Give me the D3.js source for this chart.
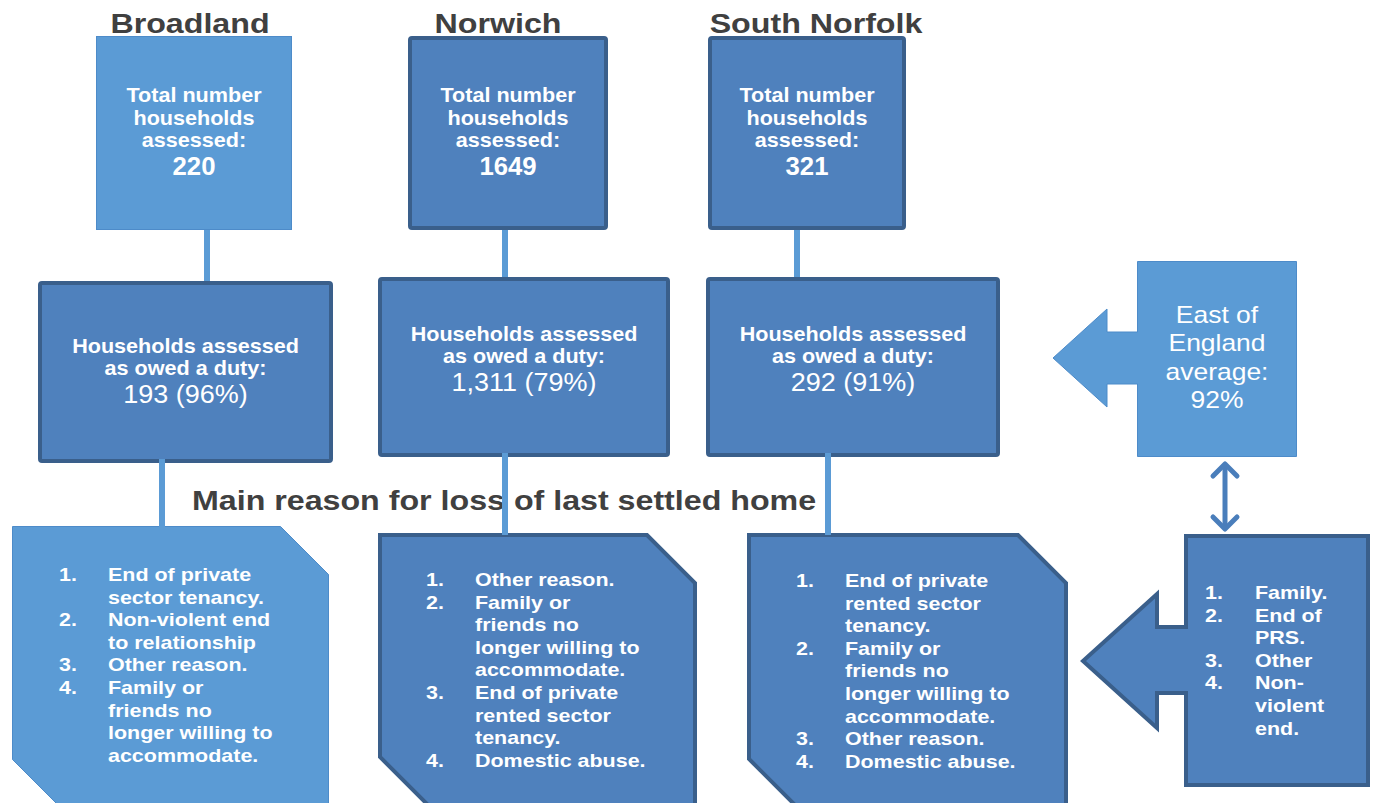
<!DOCTYPE html>
<html lang="en">
<head>
<meta charset="utf-8">
<title>Homelessness assessments - Norfolk</title>
<script src="https://d3js.org/d3.v7.min.js"></script>
<style>
  body { margin: 0; background: #fff; }
  text { font-family: "Liberation Sans", Arial, sans-serif; }
</style>
</head>
<body>
<div id="diagram"></div>
<script>

// data
var districts = ["Broadland", "Norwich", "South Norfolk"];
var totalAssessed = [220, 1649, 321];
var owedDuty = [193, 1311, 292];
var owedPct = [96, 79, 91];
var reasons = [
  [["End of private", "sector tenancy."], ["Non-violent end", "to relationship"], ["Other reason."], ["Family or", "friends no", "longer willing to", "accommodate."]],
  [["Other reason."], ["Family or", "friends no", "longer willing to", "accommodate."], ["End of private", "rented sector", "tenancy."], ["Domestic abuse."]],
  [["End of private", "rented sector", "tenancy."], ["Family or", "friends no", "longer willing to", "accommodate."], ["Other reason."], ["Domestic abuse."]]
];
var regionName = ["East of", "England", "average:"];
var regionPct = 92;
var regionReasons = [["Family."], ["End of", "PRS."], ["Other"], ["Non-", "violent", "end."]];
var topLabel = ["Total number", "households", "assessed:"];
var midLabel = ["Households assessed", "as owed a duty:"];
var sectionTitle = "Main reason for loss of last settled home";

var width = 1378, height = 803;
var light = "#5b9bd5", lightEdge = "#4d8bc9";
var dark = "#4f81bd", darkEdge = "#3a5f8b";
var grey = "#404040";

// layout of each column
var layout = [
  { title: 190, top: [96, 36, 196, 194], topLight: true, link1: 207,
    mid: [38, 281, 295, 182], midLight: false, midText: 353, link2: 162,
    bot: [12, 526, 317, 282], botLight: true, cut: 48, numX: 59, txtX: 108, base: 581 },
  { title: 498, top: [408, 36, 200, 194], topLight: false, link1: 505,
    mid: [378, 277, 292, 180], midLight: false, midText: 341, link2: 505,
    bot: [378, 533, 319, 274], botLight: false, cut: 48, numX: 426, txtX: 475, base: 586 },
  { title: 816, top: [708, 36, 198, 194], topLight: false, link1: 797,
    mid: [706, 277, 294, 180], midLight: false, midText: 341, link2: 828,
    bot: [747, 533, 321, 276], botLight: false, cut: 48, numX: 796, txtX: 845, base: 587 }
];

var svg = d3.select("#diagram").append("svg")
  .attr("width", width)
  .attr("height", height);

var lineH = 22.6;
var fmt = d3.format(",");

function label(x, y, t, o) {
  return svg.append("text")
    .attr("transform", "translate(" + x + "," + y + ") scale(" + (o.sx || 1.08) + ",1)")
    .attr("text-anchor", o.anchor || "middle")
    .style("font-size", o.size + "px")
    .style("font-weight", o.weight || "bold")
    .style("fill", o.fill || "#fff")
    .text(t);
}

function box(r, isLight) {
  var inset = isLight ? 0.5 : 2;
  svg.append("rect")
    .attr("x", r[0] + inset).attr("y", r[1] + inset)
    .attr("width", r[2] - 2 * inset).attr("height", r[3] - 2 * inset)
    .attr("rx", isLight ? 0 : 2)
    .style("fill", isLight ? light : dark)
    .style("stroke", isLight ? lightEdge : darkEdge)
    .style("stroke-width", isLight ? 1 : 4);
}

function snip(r, c, isLight) {
  var i = isLight ? 0.5 : 2;
  var x0 = r[0] + i, y0 = r[1] + i, x1 = r[0] + r[2] - i, y1 = r[1] + r[3] - i;
  var p = d3.path();
  p.moveTo(x0, y0); p.lineTo(x1 - c, y0); p.lineTo(x1, y0 + c);
  p.lineTo(x1, y1); p.lineTo(x0 + c, y1); p.lineTo(x0, y1 - c); p.closePath();
  svg.append("path").attr("d", p.toString())
    .style("fill", isLight ? light : dark)
    .style("stroke", isLight ? lightEdge : darkEdge)
    .style("stroke-width", isLight ? 1 : 4);
}

function link(x, y0, y1) {
  svg.append("line")
    .attr("x1", x).attr("x2", x).attr("y1", y0).attr("y2", y1)
    .style("stroke", light).style("stroke-width", 6);
}

function list(items, numX, txtX, base) {
  var k = 0;
  items.forEach(function(item, i) {
    label(numX, base + k * lineH, (i + 1) + ".", { size: 19, anchor: "start", sx: 1.13 });
    item.forEach(function(t) {
      label(txtX, base + k * lineH, t, { size: 19, anchor: "start", sx: 1.13 });
      k++;
    });
  });
}

// section title first so the Norwich link sits on top of it
label(192, 510, sectionTitle, { size: 28, anchor: "start", sx: 1.15, fill: grey });

districts.forEach(function(name, i) {
  var L = layout[i];
  label(L.title, 33, name, { size: 28, sx: 1.15, fill: grey });

  link(L.link1, L.top[1] + L.top[3] - 2, L.mid[1] + 2);

  box(L.top, L.topLight);
  var cx = L.top[0] + L.top[2] / 2;
  topLabel.forEach(function(t, j) {
    label(cx, 102 + j * 22.5, t, { size: 20 });
  });
  label(cx, 175, String(totalAssessed[i]), { size: 25, sx: 1.03 });

  box(L.mid, L.midLight);
  var mx = L.mid[0] + L.mid[2] / 2;
  midLabel.forEach(function(t, j) {
    label(mx, L.midText + j * 22, t, { size: 20 });
  });
  label(mx, L.midText + 50, fmt(owedDuty[i]) + " (" + owedPct[i] + "%)", { size: 25, weight: "normal" });

  snip(L.bot, L.cut, L.botLight);
  list(reasons[i], L.numX, L.txtX, L.base);
});

// lower links drawn over the section title and the box edges
districts.forEach(function(name, i) {
  var L = layout[i];
  link(L.link2, L.mid[1] + L.mid[3] - 4, L.bot[1] + 2);
});

// callout with an arrow pointing left
function callout(r, shaft, head, tipX, isLight) {
  var i = isLight ? 0.5 : 2;
  var x0 = r[0] + i, y0 = r[1] + i, x1 = r[0] + r[2] - i, y1 = r[1] + r[3] - i;
  var mid = (head[0] + head[1]) / 2;
  var pts = [[x0, y0], [x1, y0], [x1, y1], [x0, y1], [x0, shaft[1]], [head[2], shaft[1]],
    [head[2], head[1]], [tipX, mid], [head[2], head[0]], [head[2], shaft[0]], [x0, shaft[0]]];
  svg.append("path").attr("d", d3.line()(pts) + "Z")
    .style("fill", isLight ? light : dark)
    .style("stroke", isLight ? lightEdge : darkEdge)
    .style("stroke-width", isLight ? 1 : 4)
    .style("stroke-linejoin", "miter");
}

callout([1137, 261, 160, 196], [332, 384], [309, 407, 1107], 1053, true);
regionName.forEach(function(t, j) {
  label(1217, 323 + j * 28.3, t, { size: 23, weight: "normal", sx: 1.15 });
});
label(1217, 323 + 3 * 28.3, regionPct + "%", { size: 23, weight: "normal", sx: 1.15 });

callout([1184, 534, 186, 253], [627, 693], [594, 728, 1157], 1083, false);
list(regionReasons, 1205, 1255, 599);

// two-way arrow between the callouts
var ax = 1225, ay0 = 462, ay1 = 531;
svg.append("line").attr("x1", ax).attr("x2", ax).attr("y1", ay0 + 2).attr("y2", ay1 - 2)
  .style("stroke", "#4a7ebb").style("stroke-width", 5);
svg.append("path").attr("d", d3.line()([[ax - 12, ay0 + 14], [ax, ay0 + 2], [ax + 12, ay0 + 14]]))
  .style("fill", "none").style("stroke", "#4a7ebb").style("stroke-width", 5)
  .style("stroke-linecap", "round").style("stroke-linejoin", "round");
svg.append("path").attr("d", d3.line()([[ax - 12, ay1 - 14], [ax, ay1 - 2], [ax + 12, ay1 - 14]]))
  .style("fill", "none").style("stroke", "#4a7ebb").style("stroke-width", 5)
  .style("stroke-linecap", "round").style("stroke-linejoin", "round");

</script>
</body>
</html>
